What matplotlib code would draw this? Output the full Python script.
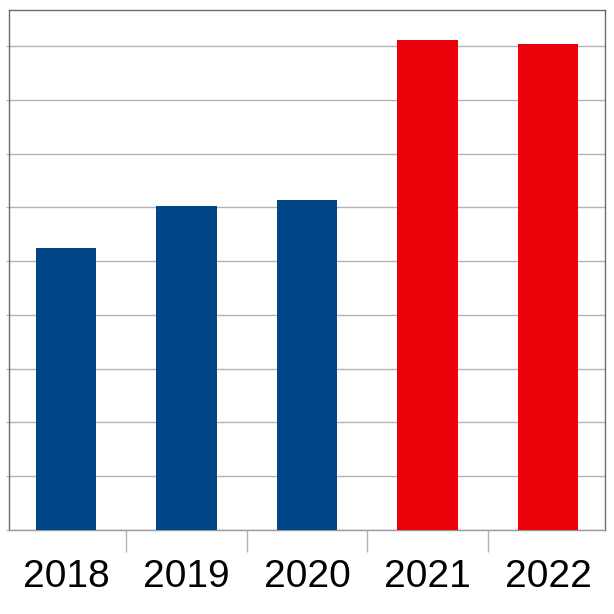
import matplotlib
matplotlib.use("Agg")
import matplotlib.pyplot as plt
from matplotlib import font_manager
from matplotlib.ticker import FixedLocator, NullFormatter

years = ["2018", "2019", "2020", "2021", "2022"]
values = [5.24, 6.02, 6.14, 9.11, 9.04]
bar_colors = ["#004586", "#004586", "#004586", "#EA0008", "#EA0008"]

names = {f.name for f in font_manager.fontManager.ttflist}
family = "Liberation Sans Narrow" if "Liberation Sans Narrow" in names else "Liberation Sans"

fig = plt.figure(figsize=(6.14, 6.14), dpi=100)
ax = fig.add_axes([9/614, 84/614, 596/614, 520/614])

x = list(range(len(years)))
ax.bar(x, values, width=0.5, color=bar_colors, zorder=3)

ax.set_xlim(-0.473, 4.473)
ax.set_ylim(0, 9.67)

ax.set_yticks(range(0, 10))
ax.yaxis.grid(True, color="#b3b3b3", linewidth=1.0, zorder=0)
ax.tick_params(axis="y", length=2, color="#b3b3b3", labelleft=False)

ax.set_xticks(x)
ax.set_xticklabels(years, fontsize=28 if family == "Liberation Sans" else 31, family=family)
ax.tick_params(axis="x", which="major", length=0, pad=21)
ax.xaxis.set_minor_locator(FixedLocator([0.5, 1.5, 2.5, 3.5]))
ax.xaxis.set_minor_formatter(NullFormatter())
ax.tick_params(axis="x", which="minor", length=16, width=1, color="#b3b3b3")

for s in ["left", "top", "right"]:
    ax.spines[s].set_color("#6b6b6b")
    ax.spines[s].set_linewidth(1)
ax.spines["bottom"].set_color("#9a9a9a")
ax.spines["bottom"].set_linewidth(1)

fig.savefig("out.png", dpi=100, facecolor="white")
